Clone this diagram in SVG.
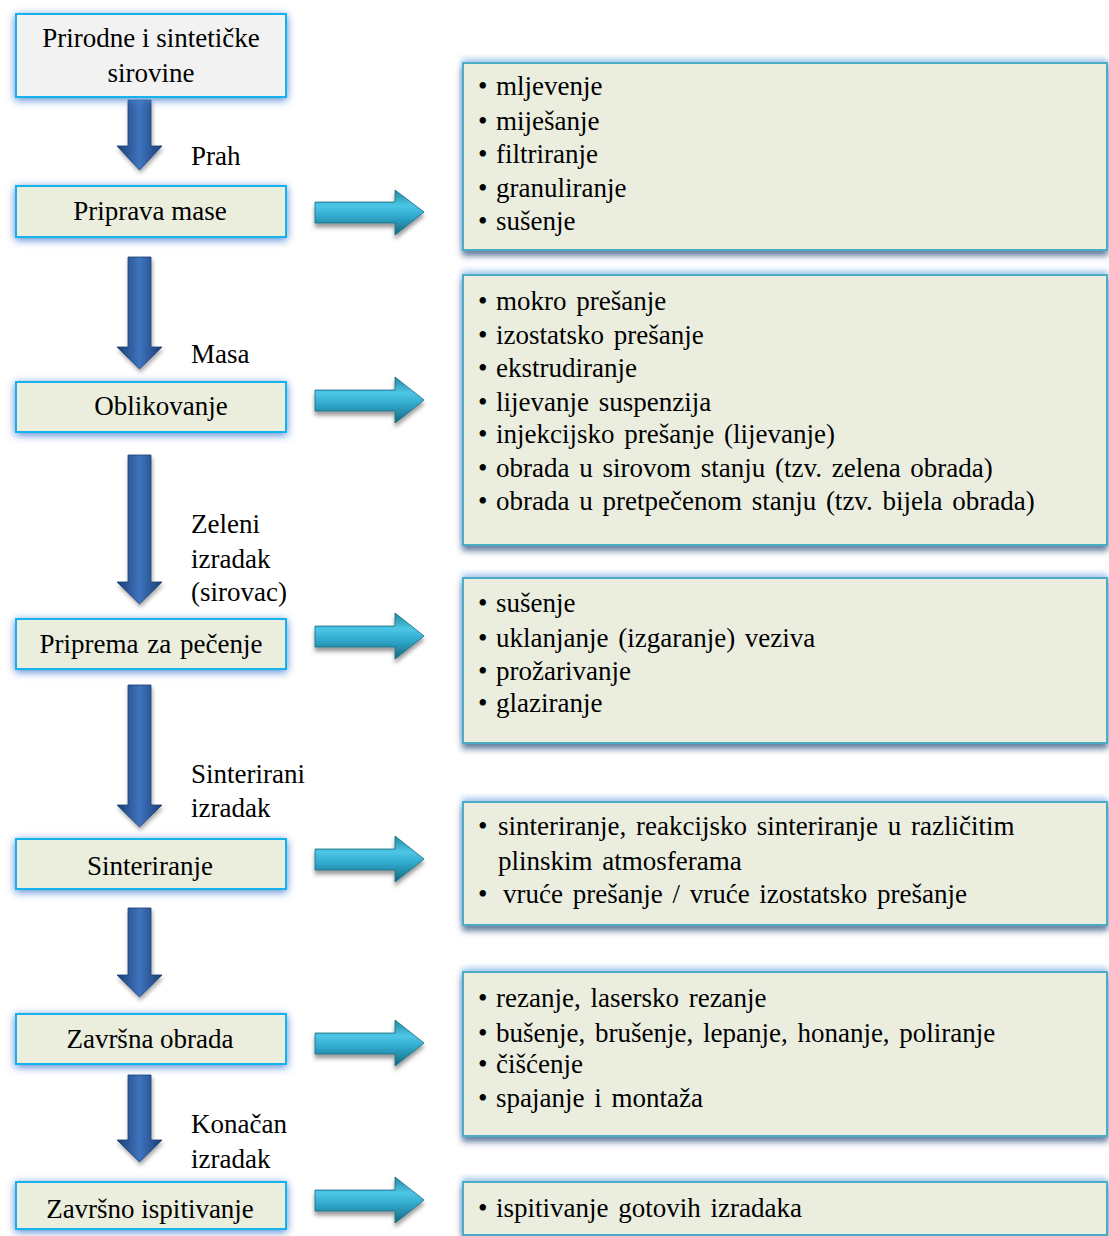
<svg xmlns="http://www.w3.org/2000/svg" width="1109" height="1236" viewBox="0 0 1109 1236">
<style>
  text { font-family: "Liberation Serif", "Times New Roman", serif; font-size: 27px; fill: #000; }
  .c { text-anchor: middle; }
  .rt text { word-spacing: 3px; }
  .lbox { fill: #ebeedd; stroke: #16b2ec; stroke-width: 2; filter: url(#glowL); }
  .lbox.top { fill: #f2f2f2; }
  .rbox { fill: #ebeedf; stroke: #4bacc6; stroke-width: 2; filter: url(#glowR); }
  .darr { fill: url(#gDown); stroke: #1b3f73; stroke-width: 0.8; filter: url(#shD); }
  .rarr { fill: url(#gRight); stroke: #176a82; stroke-width: 0.8; filter: url(#shR); }
</style>
<defs>
  <filter id="glowL" x="-10%" y="-30%" width="120%" height="170%">
    <feGaussianBlur in="SourceAlpha" stdDeviation="4" result="b"/>
    <feOffset in="b" dy="2" result="o"/>
    <feFlood flood-color="#4f86d2" flood-opacity="1"/>
    <feComposite in2="o" operator="in" result="g"/>
    <feMerge><feMergeNode in="g"/><feMergeNode in="SourceGraphic"/></feMerge>
  </filter>
  <filter id="glowR" x="-5%" y="-15%" width="110%" height="135%">
    <feGaussianBlur in="SourceAlpha" stdDeviation="3" result="b"/>
    <feOffset in="b" dy="-3" result="up"/>
    <feFlood flood-color="#8fbbe8" flood-opacity="0.85"/>
    <feComposite in2="up" operator="in" result="g1"/>
    <feOffset in="b" dy="5" result="dn"/>
    <feFlood flood-color="#4a6890" flood-opacity="0.85"/>
    <feComposite in2="dn" operator="in" result="g2"/>
    <feMerge><feMergeNode in="g1"/><feMergeNode in="g2"/><feMergeNode in="SourceGraphic"/></feMerge>
  </filter>
  <filter id="shD" x="-40%" y="-10%" width="180%" height="130%">
    <feGaussianBlur in="SourceAlpha" stdDeviation="2" result="b"/>
    <feOffset in="b" dx="1" dy="3" result="o"/>
    <feFlood flood-color="#000" flood-opacity="0.35"/>
    <feComposite in2="o" operator="in" result="s"/>
    <feMerge><feMergeNode in="s"/><feMergeNode in="SourceGraphic"/></feMerge>
  </filter>
  <filter id="shR" x="-10%" y="-30%" width="130%" height="180%">
    <feGaussianBlur in="SourceAlpha" stdDeviation="2" result="b"/>
    <feOffset in="b" dx="0" dy="4" result="o"/>
    <feFlood flood-color="#000" flood-opacity="0.4"/>
    <feComposite in2="o" operator="in" result="s"/>
    <feMerge><feMergeNode in="s"/><feMergeNode in="SourceGraphic"/></feMerge>
  </filter>
  <linearGradient id="gDown" x1="0" y1="0" x2="1" y2="0">
    <stop offset="0" stop-color="#1a3f78"/>
    <stop offset="0.5" stop-color="#3f74bd"/>
    <stop offset="1" stop-color="#1a3f78"/>
  </linearGradient>
  <linearGradient id="gRight" x1="0" y1="0" x2="0" y2="1">
    <stop offset="0" stop-color="#22899f"/>
    <stop offset="0.35" stop-color="#4cc6e6"/>
    <stop offset="0.6" stop-color="#2fa8cb"/>
    <stop offset="1" stop-color="#16677e"/>
  </linearGradient>
</defs>
<rect width="1109" height="1236" fill="#fff"/>

<g id="connectors">
  <path class="darr" d="M128,100 L151,100 L151,146 L162,146 L139.5,170 L117,146 L128,146 Z"/>
  <path class="darr" d="M128,257 L151,257 L151,347 L162,347 L139.5,369 L117,347 L128,347 Z"/>
  <path class="darr" d="M128,455 L151,455 L151,582 L162,582 L139.5,604 L117,582 L128,582 Z"/>
  <path class="darr" d="M128,685 L151,685 L151,805 L162,805 L139.5,827 L117,805 L128,805 Z"/>
  <path class="darr" d="M128,908 L151,908 L151,975 L162,975 L139.5,997 L117,975 L128,975 Z"/>
  <path class="darr" d="M128,1075 L151,1075 L151,1140 L162,1140 L139.5,1162 L117,1140 L128,1140 Z"/>

  <path class="rarr" d="M315,202 L395,202 L395,190 L424,212 L395,235 L395,223 L315,223 Z"/>
  <path class="rarr" d="M315,390 L395,390 L395,377 L424,400 L395,423 L395,411 L315,411 Z"/>
  <path class="rarr" d="M315,626 L395,626 L395,613 L424,636 L395,659 L395,647 L315,647 Z"/>
  <path class="rarr" d="M315,849 L395,849 L395,836 L424,859 L395,882 L395,870 L315,870 Z"/>
  <path class="rarr" d="M315,1033 L395,1033 L395,1020 L424,1043 L395,1066 L395,1054 L315,1054 Z"/>
  <path class="rarr" d="M315,1190 L395,1190 L395,1177 L424,1200 L395,1223 L395,1211 L315,1211 Z"/>

  <text x="191" y="165">Prah</text>
  <text x="191" y="363">Masa</text>
  <text x="191" y="533">Zeleni</text>
  <text x="191" y="568">izradak</text>
  <text x="191" y="601">(sirovac)</text>
  <text x="191" y="783">Sinterirani</text>
  <text x="191" y="817">izradak</text>
  <text x="191" y="1133">Konačan</text>
  <text x="191" y="1168">izradak</text>
</g>

<g id="n-sirovine">
  <rect class="lbox top" x="16" y="14" width="270" height="83"/>
  <text class="c" x="151" y="47">Prirodne i sintetičke</text>
  <text class="c" x="151" y="82">sirovine</text>
</g>
<g id="n-priprava">
  <rect class="lbox" x="16" y="186" width="270" height="51"/>
  <text class="c" x="150" y="220">Priprava mase</text>
</g>
<g id="n-oblikovanje">
  <rect class="lbox" x="16" y="382" width="270" height="50"/>
  <text class="c" x="161" y="415">Oblikovanje</text>
</g>
<g id="n-priprema">
  <rect class="lbox" x="16" y="619" width="270" height="50"/>
  <text class="c" x="151" y="653" word-spacing="2">Priprema za pečenje</text>
</g>
<g id="n-sinteriranje">
  <rect class="lbox" x="16" y="839" width="270" height="50"/>
  <text class="c" x="150" y="875">Sinteriranje</text>
</g>
<g id="n-zavrsna">
  <rect class="lbox" x="16" y="1014" width="270" height="50"/>
  <text class="c" x="150" y="1048">Završna obrada</text>
</g>
<g id="n-ispitivanje">
  <rect class="lbox" x="16" y="1182" width="270" height="47"/>
  <text class="c" x="150" y="1218">Završno ispitivanje</text>
</g>

<g id="r-priprava" class="rt">
  <rect class="rbox" x="463" y="63" width="644" height="187"/>
  <text y="95"><tspan x="478">•</tspan><tspan x="496">mljevenje</tspan></text>
  <text y="130"><tspan x="478">•</tspan><tspan x="496">miješanje</tspan></text>
  <text y="163"><tspan x="478">•</tspan><tspan x="496">filtriranje</tspan></text>
  <text y="197"><tspan x="478">•</tspan><tspan x="496">granuliranje</tspan></text>
  <text y="230"><tspan x="478">•</tspan><tspan x="496">sušenje</tspan></text>
</g>
<g id="r-oblikovanje" class="rt">
  <rect class="rbox" x="463" y="275" width="644" height="270"/>
  <text y="310"><tspan x="478">•</tspan><tspan x="496">mokro prešanje</tspan></text>
  <text y="344"><tspan x="478">•</tspan><tspan x="496">izostatsko prešanje</tspan></text>
  <text y="377"><tspan x="478">•</tspan><tspan x="496">ekstrudiranje</tspan></text>
  <text y="411"><tspan x="478">•</tspan><tspan x="496">lijevanje suspenzija</tspan></text>
  <text y="443"><tspan x="478">•</tspan><tspan x="496">injekcijsko prešanje (lijevanje)</tspan></text>
  <text y="477"><tspan x="478">•</tspan><tspan x="496">obrada u sirovom stanju (tzv. zelena obrada)</tspan></text>
  <text y="510"><tspan x="478">•</tspan><tspan x="496">obrada u pretpečenom stanju (tzv. bijela obrada)</tspan></text>
</g>
<g id="r-priprema" class="rt">
  <rect class="rbox" x="463" y="578" width="644" height="165"/>
  <text y="612"><tspan x="478">•</tspan><tspan x="496">sušenje</tspan></text>
  <text y="647"><tspan x="478">•</tspan><tspan x="496">uklanjanje (izgaranje) veziva</tspan></text>
  <text y="680"><tspan x="478">•</tspan><tspan x="496">prožarivanje</tspan></text>
  <text y="712"><tspan x="478">•</tspan><tspan x="496">glaziranje</tspan></text>
</g>
<g id="r-sinteriranje" class="rt">
  <rect class="rbox" x="463" y="802" width="644" height="123"/>
  <text y="835"><tspan x="478">•</tspan><tspan x="498">sinteriranje, reakcijsko sinteriranje u različitim</tspan></text>
  <text x="498" y="870">plinskim atmosferama</text>
  <text y="903"><tspan x="478">•</tspan><tspan x="503">vruće prešanje / vruće izostatsko prešanje</tspan></text>
</g>
<g id="r-zavrsna" class="rt">
  <rect class="rbox" x="463" y="972" width="644" height="164"/>
  <text y="1007"><tspan x="478">•</tspan><tspan x="496">rezanje, lasersko rezanje</tspan></text>
  <text y="1042"><tspan x="478">•</tspan><tspan x="496">bušenje, brušenje, lepanje, honanje, poliranje</tspan></text>
  <text y="1073"><tspan x="478">•</tspan><tspan x="496">čišćenje</tspan></text>
  <text y="1107"><tspan x="478">•</tspan><tspan x="496">spajanje i montaža</tspan></text>
</g>
<g id="r-ispitivanje" class="rt">
  <rect class="rbox" x="463" y="1182" width="644" height="53"/>
  <text y="1217"><tspan x="478">•</tspan><tspan x="496">ispitivanje gotovih izradaka</tspan></text>
</g>
</svg>
